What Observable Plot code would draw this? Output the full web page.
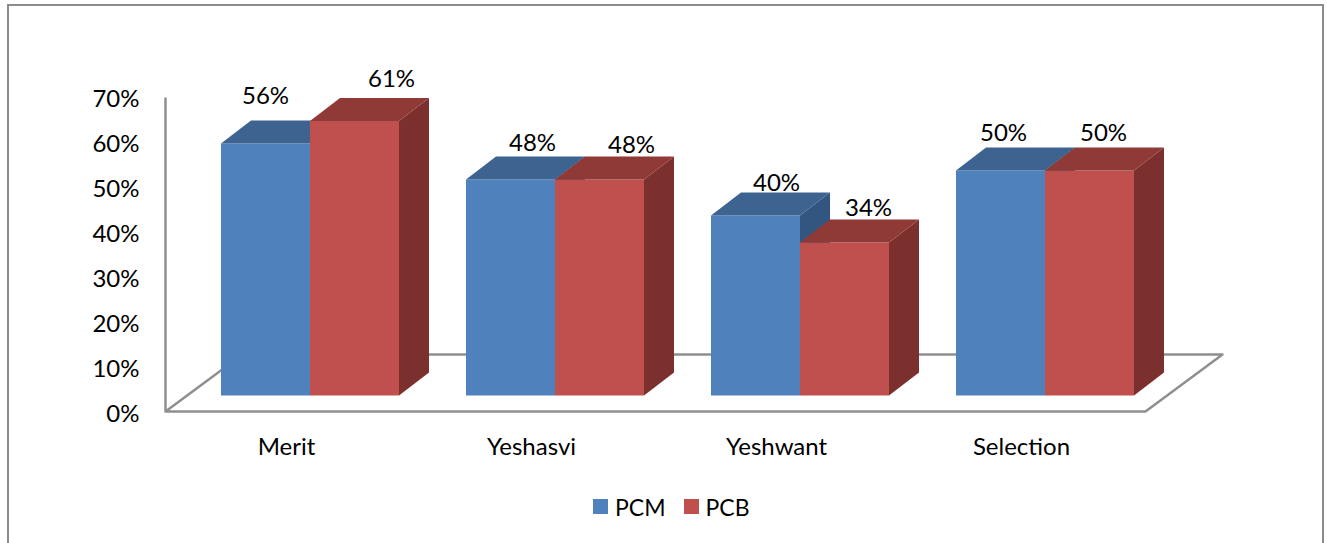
<!DOCTYPE html>
<html><head><meta charset="utf-8">
<script src="https://cdn.jsdelivr.net/npm/d3@7"></script>
<script src="https://cdn.jsdelivr.net/npm/@observablehq/plot@0.6"></script>
<style>
html,body{margin:0;padding:0;background:#fff;overflow:hidden;width:1327px;height:543px}
#frame{position:absolute;left:7px;top:4px;width:1313px;height:600px;border:2px solid #8c8c8c;box-sizing:content-box}
#chart{position:absolute;left:0;top:0;width:1327px;height:490px;font-family:Lato,sans-serif}
#chart svg{display:block;font-family:Lato,sans-serif}
#legend{position:absolute;top:490px;left:593px;height:33px;display:flex;align-items:center;font:23px Lato,sans-serif;color:#000}
#legend i{display:inline-block;width:15px;height:15px;margin-right:7px}
#legend span{margin-right:18px}
</style></head><body>
<div id="frame"></div>
<div id="chart"></div>
<div id="legend"></div>
<script>
const categories = ["Merit", "Yeshasvi", "Yeshwant", "Selection"];
const pcm = [56, 48, 40, 50];
const pcb = [61, 48, 34, 50];
const yTicks = [0, 10, 20, 30, 40, 50, 60, 70];
// hand-placed label nudges of the original, in pixels
const labelNudgeX = {PCM: [0, 22, 21, 3], PCB: [37, 32, 24, 14]};
const labelNudgeY = {PCM: [-24, -13, -9, -14], PCB: [-19, -11, -11, -14]};

const W = 1327, H = 490;
const pxX = 245, pxY = 4.5;           // pixels per category, pixels per percent
const zeroX = 309.5, zeroY = 395;     // pixel of category 0 centre, of 0%
const halfBar = 89 / pxX, depthX = 30 / pxX, depthY = 23 / pxY;
const floor = {x0: -144.5 / pxX, x1: 835.5 / pxX, front: -16 / pxY, back: 41 / pxY, dx: 77 / pxX, top: 297 / pxY};

const series = [
  {name: "PCM", values: pcm, x0: i => i - halfBar, x1: i => i, front: "#4f81bd", top: "#3d6391", side: "#335680"},
  {name: "PCB", values: pcb, x0: i => i, x1: i => i + halfBar, front: "#c0504d", top: "#903a38", side: "#7c302e"}
];
const faces = [];
const labels = [];
categories.forEach((c, i) => series.forEach(s => {
  const v = s.values[i], a = s.x0(i), b = s.x1(i);
  const poly = (kind, fill, pts) => pts.forEach(([x, y]) => faces.push({id: `${c}-${s.name}-${kind}`, x, y, fill}));
  poly("side", s.side, [[b, 0], [b + depthX, depthY], [b + depthX, v + depthY], [b, v]]);
  poly("front", s.front, [[a, 0], [b, 0], [b, v], [a, v]]);
  poly("top", s.top, [[a, v], [b, v], [b + depthX, v + depthY], [a + depthX, v + depthY]]);
  labels.push({
    x: (a + b) / 2 + labelNudgeX[s.name][i] / pxX,
    y: v + depthY - labelNudgeY[s.name][i] / pxY,
    text: v + "%"
  });
}));
const floorPts = [
  {x: floor.x0, y: floor.top},
  {x: floor.x0, y: floor.front},
  {x: floor.x1, y: floor.front},
  {x: floor.x1 + floor.dx, y: floor.back},
  {x: floor.x0 + floor.dx, y: floor.back},
  {x: floor.x0, y: floor.front}
];

const chart = Plot.plot({
  width: W, height: H,
  marginLeft: 139, marginBottom: 56, marginTop: 0, marginRight: 0,
  style: {background: "transparent", fontFamily: "Lato, sans-serif"},
  x: {type: "linear", domain: [-zeroX / pxX, (W - zeroX) / pxX], range: [0, W]},
  y: {type: "linear", domain: [(zeroY - H) / pxY, zeroY / pxY], range: [H, 0]},
  color: {type: "identity"},
  marks: [
    Plot.axisY({ticks: yTicks, tickFormat: d => d + "%", tickSize: 0, tickPadding: 0, dy: 19, fontSize: 24, fill: "#000", label: null}),
    Plot.axisX({ticks: categories.map((_, i) => i), tickFormat: i => categories[i], tickSize: 0, tickPadding: 0, dx: -23.5, dy: 3, fontSize: 24, fill: "#000", label: null, lineAnchor: "top"}),
    Plot.line(floorPts, {x: "x", y: "y", stroke: "#8f8f8f", strokeWidth: 2.5, curve: "linear"}),
    Plot.line(faces, {x: "x", y: "y", z: "id", fill: "fill", stroke: null, curve: "linear"}),
    Plot.text(labels, {x: "x", y: "y", text: "text", fontSize: 24, fill: "#000"})
  ]
});
document.getElementById("chart").appendChild(chart);

const legend = document.getElementById("legend");
series.forEach(s => {
  const sw = document.createElement("i");
  sw.style.background = s.front;
  const t = document.createElement("span");
  t.textContent = s.name;
  legend.append(sw, t);
});
</script>
</body></html>
